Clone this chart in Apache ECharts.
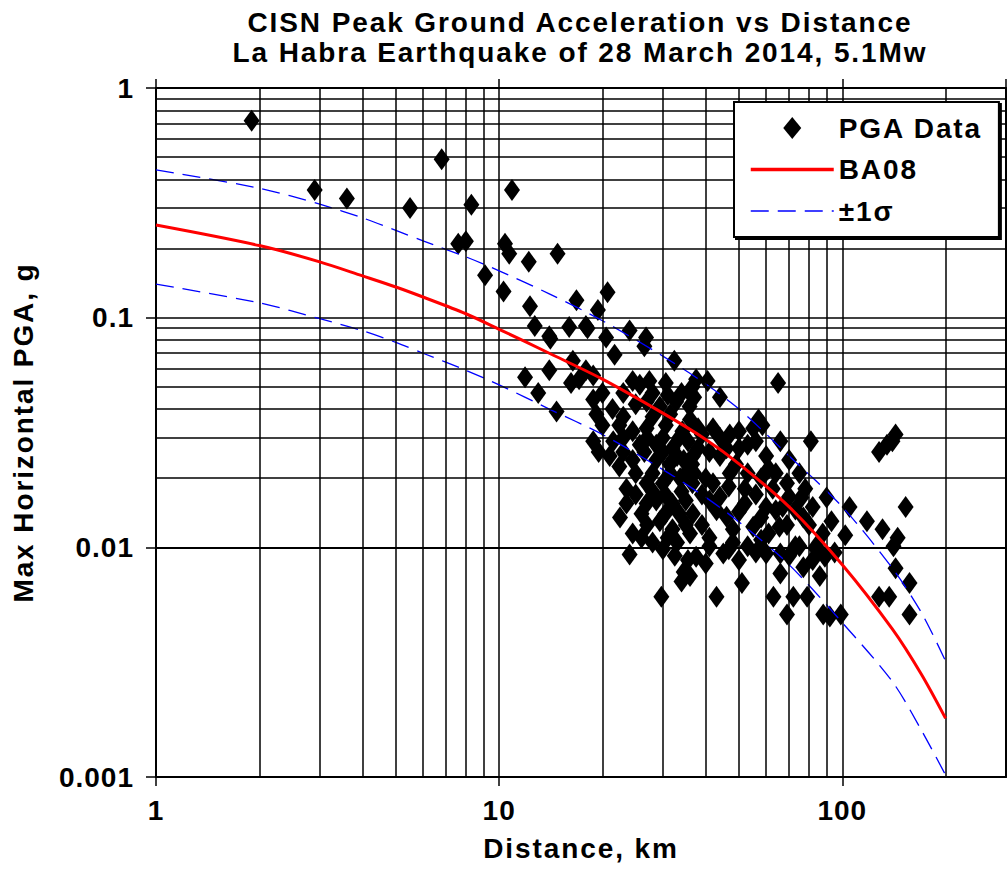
<!DOCTYPE html>
<html>
<head>
<meta charset="utf-8">
<script src="https://cdn.jsdelivr.net/npm/echarts@6/dist/echarts.min.js"></script>
<style>
html,body{margin:0;padding:0;background:#fff}
#c{width:1008px;height:871px}
#c text[style*="sans-serif"]{letter-spacing:1.9px}
#c text:not([style*="sans-serif"]){letter-spacing:1px}
</style>
</head>
<body>
<div id="c"></div>
<script>
// ---- data ----
const titleLines = ['CISN Peak Ground Acceleration vs Distance', 'La Habra Earthquake of 28 March 2014, 5.1Mw'];
const xAxisName = 'Distance, km';
const yAxisName = 'Max Horizontal PGA, g';
const legendNames = ['PGA Data', 'BA08', '\u00b11\u03c3'];

// grid lines between decades (log minor grid)
const xMinorGrid = [2,3,4,5,6,7,8,9,20,30,40,50,60,70,80,90,200,300];
const yMinorGrid = [0.002,0.003,0.004,0.005,0.006,0.007,0.008,0.009,
                    0.02,0.03,0.04,0.05,0.06,0.07,0.08,0.09,
                    0.2,0.3,0.4,0.5,0.6,0.7,0.8,0.9];

// model curves
const curveDist = [1, 2, 3, 4, 5, 6, 8, 10, 14, 20, 30, 40, 50, 70, 100, 140, 170, 200];
const ba08      = [0.253, 0.206, 0.175, 0.152, 0.136, 0.123, 0.104, 0.089, 0.070, 0.054, 0.0384, 0.0295, 0.0231, 0.015, 0.0084, 0.0044, 0.0028, 0.0018];
const ba08Plus  = [0.44, 0.366, 0.312, 0.272, 0.240, 0.216, 0.184, 0.160, 0.127, 0.097, 0.068, 0.0514, 0.040, 0.025, 0.0150, 0.0081, 0.0052, 0.0032];
const ba08Minus = [0.14, 0.116, 0.099, 0.0877, 0.078, 0.070, 0.059, 0.051, 0.040, 0.031, 0.0218, 0.0165, 0.0129, 0.0084, 0.0047, 0.0026, 0.0016, 0.00102];

// observed PGA (distance km, PGA g)
const pgaDist = [
 1.9, 2.9, 3.6, 5.5, 6.8, 7.6, 8.0, 8.3, 9.1, 10.3, 10.4, 10.7, 10.9, 12.2, 14.8, 12.3, 12.7, 14.0, 16.0, 16.8,
 18.1, 19.4, 20.7, 24.0, 26.8, 26.5, 32.4, 37.5, 11.9, 14.0, 13.0, 14.7, 16.4, 16.2, 17.1, 17.9, 18.8, 18.8, 19.2, 18.8,
 21.4, 21.0, 21.7, 17.9, 20.5, 14.1,
 24.5, 25.7, 27.4, 30.6, 36.6,
 25.0, 26.9, 29.4, 32.8, 35.9,
 22.4, 24.5, 26.9, 30.6, 34.2,
 21.5, 25.7, 28.7, 32.0, 35.5,
 22.4, 24.5, 28.7, 31.4, 34.5,
 23.5, 26.9, 30.0, 33.7, 36.6,
 23.5, 26.9, 28.7, 32.0, 35.0,
 24.5, 27.0, 29.4, 32.0,
 24.0, 30.0, 33.0,
 35.5, 34.5, 34.0, 29.7, 36.0,
 40.5, 37.0, 44.0, 65.0, 57.0, 58.5, 81.0, 135, 128, 143, 140, 153, 90.0, 105, 93.0, 118, 102, 131, 145,
 38.0, 44.0, 47.0, 55.0, 38.0, 36.7, 44.0, 49.0, 53.0, 60.0, 61.0, 40.0, 37.0, 44.0, 50.0, 56.0, 69.0, 70.0, 73.0,
 60.0, 55.0, 61.0, 65.6, 73.0, 84.0, 41.0, 46.0, 36.7, 36.0,
 41.0, 46.7, 53.0, 62.7, 67.0, 77.0, 87.7, 36.0,
 43.0, 51.0, 63.0, 69.0, 72.0, 79.0, 88.0, 99.0, 92.0, 66.0, 77.0, 86.0, 89.0, 50.0, 45.0, 128, 137, 143, 157, 157, 141,
 37.5, 41.0, 46.7, 53.0, 60.0, 66.0, 75.0, 84.0,
 20.0, 23.0, 28.0, 31.0, 34.0,
 20.0, 23.0, 28.0, 31.5, 36.0,
 23.0, 27.0, 30.0, 33.5,
 19.5, 23.0, 26.5, 30.0, 33.0, 36.5,
 25.0, 28.0, 31.5, 35.0,
 25.0, 28.0, 30.5, 34.0,
 22.5, 26.0, 30.5, 33.5,
 26.0, 31.0, 35.0, 28.0, 32.5,
 39.0, 42.0, 50.0, 46.0, 41.0, 50.0, 56.0, 66.0, 70.0, 75.0, 78.0,
 39.0, 42.0, 47.0, 52.0, 58.0, 64.0,
 39.0, 43.0, 48.0, 52.0, 58.0, 64.0, 69.0, 80.0, 76.0, 82.0,
 40.0, 48.0, 56.0, 58.0, 70.0, 82.0, 95.0
];
const pgaValue = [
 0.72, 0.36, 0.33, 0.30, 0.49, 0.21, 0.215, 0.31, 0.153, 0.13, 0.21, 0.19, 0.36, 0.175, 0.19, 0.112, 0.092, 0.083, 0.091, 0.119,
 0.090, 0.108, 0.129, 0.088, 0.082, 0.075, 0.065, 0.054, 0.055, 0.059, 0.047, 0.039, 0.065, 0.052, 0.054, 0.059, 0.056, 0.044, 0.038, 0.029,
 0.040, 0.025, 0.069, 0.092, 0.082, 0.081,
 0.053, 0.051, 0.053, 0.052, 0.050,
 0.042, 0.043, 0.041, 0.043, 0.041,
 0.034, 0.032, 0.033, 0.034, 0.032,
 0.029, 0.028, 0.028, 0.027, 0.029,
 0.0225, 0.024, 0.024, 0.023, 0.024,
 0.018, 0.019, 0.019, 0.020, 0.019,
 0.0155, 0.0155, 0.016, 0.0155, 0.016,
 0.0115, 0.0125, 0.013, 0.012,
 0.0093, 0.0098, 0.0105,
 0.0088, 0.0078, 0.0071, 0.0061, 0.0075,
 0.053, 0.045, 0.045, 0.052, 0.036, 0.034, 0.029, 0.028, 0.026, 0.031, 0.029, 0.015, 0.0165, 0.015, 0.013, 0.013, 0.0113, 0.012, 0.011,
 0.033, 0.030, 0.031, 0.033, 0.027, 0.025, 0.025, 0.023, 0.028, 0.025, 0.022, 0.020, 0.021, 0.0166, 0.0143, 0.017, 0.019, 0.0166, 0.0146,
 0.015, 0.0123, 0.0115, 0.0123, 0.0101, 0.0101, 0.011, 0.0136, 0.014, 0.0115,
 0.016, 0.0184, 0.021, 0.018, 0.015, 0.0135, 0.0115, 0.047,
 0.0061, 0.007, 0.0061, 0.0051, 0.0061, 0.0061, 0.0051, 0.0051, 0.005, 0.0077, 0.0082, 0.0075, 0.0091, 0.0088, 0.0094, 0.0061, 0.0061, 0.0081, 0.007, 0.0051, 0.0101,
 0.0091, 0.0101, 0.0098, 0.0101, 0.0094, 0.0094, 0.0101, 0.0098,
 0.047, 0.047, 0.047, 0.046, 0.047,
 0.034, 0.037, 0.037, 0.038, 0.036,
 0.030, 0.030, 0.030, 0.030,
 0.026, 0.026, 0.026, 0.026, 0.025, 0.023,
 0.021, 0.021, 0.021, 0.021,
 0.017, 0.0175, 0.017, 0.0175,
 0.0135, 0.014, 0.014, 0.014,
 0.011, 0.011, 0.0125, 0.0105, 0.0092,
 0.031, 0.033, 0.032, 0.027, 0.026, 0.027, 0.029, 0.029, 0.024, 0.021, 0.018,
 0.017, 0.019, 0.021, 0.018, 0.020, 0.021,
 0.0125, 0.0145, 0.012, 0.0155, 0.0135, 0.0145, 0.0125, 0.0125, 0.0165, 0.015,
 0.0085, 0.0105, 0.0095, 0.0108, 0.0092, 0.0088, 0.0095
];

// ---- chart ----
const FT = '"Liberation Sans", sans-serif'; // titles / legend / axis names
const FL = 'Liberation Sans';                // tick labels
const zip = (xs, ys) => xs.map((x, i) => [x, ys[i]]);

const gridLine = { color: '#000', width: 1.5, type: 'solid' };
const markLineData = xMinorGrid.map(v => ({ xAxis: v })).concat(yMinorGrid.map(v => ({ yAxis: v })));
const hideSym = { opacity: 0 };
const redStyle = { color: '#ff0000', width: 3 };
const blueStyle = { color: '#0000ff', width: 1.3, type: [18, 9] };

const chart = echarts.init(document.getElementById('c'), null, { renderer: 'svg' });
chart.setOption({
  animation: false,
  backgroundColor: '#fff',
  graphic: [{
    type: 'text', x: 580, y: 7, z: 10,
    style: {
      text: titleLines.join('\n'), fill: '#000',
      fontSize: 28, fontFamily: FT, fontWeight: 'bold',
      lineHeight: 30, align: 'center', verticalAlign: 'top'
    }
  }],
  grid: { left: 156, right: 2, top: 88, bottom: 94, containLabel: false },
  legend: {
    orient: 'vertical', left: 734, top: 102,
    padding: [12, 31, 12, 15],
    itemWidth: 83, itemHeight: 22, itemGap: 13.5,
    symbolKeepAspect: true,
    backgroundColor: '#fff', borderColor: '#000', borderWidth: 2,
    shadowColor: '#000', shadowOffsetX: 2, shadowOffsetY: 2, shadowBlur: 0,
    textStyle: { fontSize: 28, fontFamily: FT, fontWeight: 'bold', color: '#000' },
    data: [
      { name: legendNames[0], icon: 'path://M9,0 L18,11 L9,22 L0,11 Z', itemStyle: { color: '#000', opacity: 1 } },
      { name: legendNames[1], itemStyle: hideSym, lineStyle: { width: 3.5, color: '#ff0000' } },
      { name: legendNames[2], itemStyle: hideSym, lineStyle: { width: 1.6, color: '#0000ff', type: [18, 9] } }
    ],
    z: 20
  },
  xAxis: [{
    type: 'log', logBase: 10, min: 1, max: 300, position: 'bottom',
    name: xAxisName, nameLocation: 'middle', nameGap: 57,
    nameTextStyle: { fontSize: 28, fontFamily: FT, fontWeight: 'bold', color: '#000' },
    axisLine: { show: true, onZero: false, lineStyle: { color: '#000', width: 2 } },
    axisTick: { show: true, inside: false, length: 9, lineStyle: { color: '#000', width: 1.5 } },
    axisLabel: { fontSize: 28, fontFamily: FL, fontWeight: 'bold', color: '#000', margin: 19, showMaxLabel: false },
    splitLine: { show: true, lineStyle: gridLine },
    minorTick: { show: false }, minorSplitLine: { show: false }
  }, {
    type: 'log', logBase: 10, min: 1, max: 300, position: 'top',
    axisLine: { show: true, onZero: false, lineStyle: { color: '#000', width: 2 } },
    axisTick: { show: true, inside: false, length: 9, lineStyle: { color: '#000', width: 1.5 } },
    axisLabel: { show: false }, splitLine: { show: false }
  }],
  yAxis: [{
    type: 'log', logBase: 10, min: 0.001, max: 1, position: 'left',
    name: yAxisName, nameLocation: 'middle', nameGap: 119, nameRotate: 90,
    nameTextStyle: { fontSize: 28, fontFamily: FT, fontWeight: 'bold', color: '#000' },
    axisLine: { show: true, onZero: false, lineStyle: { color: '#000', width: 2 } },
    axisTick: { show: true, inside: false, length: 10, lineStyle: { color: '#000', width: 1.5 } },
    axisLabel: { fontSize: 28, fontFamily: FL, fontWeight: 'bold', color: '#000', margin: 22 },
    splitLine: { show: true, lineStyle: gridLine }
  }, {
    type: 'log', logBase: 10, min: 0.001, max: 1, position: 'right',
    axisLine: { show: true, onZero: false, lineStyle: { color: '#000', width: 2 } },
    axisTick: { show: false }, axisLabel: { show: false }, splitLine: { show: false }
  }],
  series: [{
    name: 'grid', type: 'line', data: [], z: 1, silent: true,
    markLine: {
      silent: true, symbol: ['none', 'none'], animation: false,
      label: { show: false }, lineStyle: gridLine,
      emphasis: { disabled: true },
      data: markLineData
    }
  }, {
    name: legendNames[0], type: 'scatter', z: 3,
    symbol: 'diamond', symbolSize: [16, 22],
    itemStyle: { color: '#000', opacity: 1 },
    data: zip(pgaDist, pgaValue)
  }, {
    name: legendNames[1], type: 'line', z: 5, symbol: 'none', showSymbol: false, smooth: 0.3,
    lineStyle: redStyle, itemStyle: { color: '#ff0000' },
    data: zip(curveDist, ba08)
  }, {
    name: legendNames[2], type: 'line', z: 4, symbol: 'none', showSymbol: false, smooth: 0.3,
    lineStyle: blueStyle, itemStyle: { color: '#0000ff' },
    data: zip(curveDist, ba08Plus)
  }, {
    name: legendNames[2], type: 'line', z: 4, symbol: 'none', showSymbol: false, smooth: 0.3,
    lineStyle: blueStyle, itemStyle: { color: '#0000ff' },
    data: zip(curveDist, ba08Minus)
  }]
});
</script>
</body>
</html>
